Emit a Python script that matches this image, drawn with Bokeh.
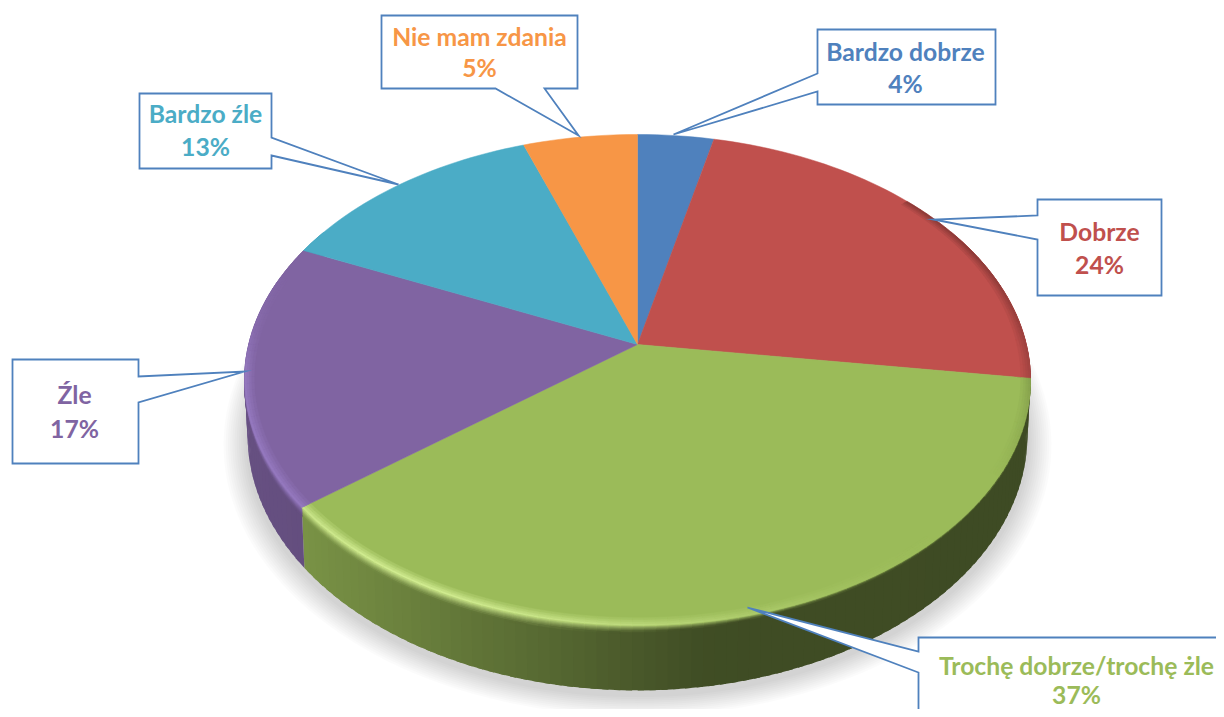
import numpy as np
from bokeh.plotting import figure
from bokeh.models import Range1d
from bokeh.core.properties import value
from bokeh.embed import file_html
from bokeh.resources import INLINE

# ---- data
categories = ["Bardzo dobrze", "Dobrze", "Trochę dobrze/trochę żle", "Źle", "Bardzo źle", "Nie mam zdania"]
shares = [3.6, 23.6, 37.2, 17.4, 12.8, 5.4]
pct_labels = ["4%", "24%", "37%", "17%", "13%", "5%"]
colors = ["#4f81bd", "#c0504d", "#9bbb59", "#8064a2", "#4bacc6", "#f79646"]

# ---- layout (pixels of the reference)
FIG_W, FIG_H = 1216, 709
CX = 637.0
K = 0.1446
TOP = dict(y0=344.0, w=388.8, h=240.4)
BOT = dict(y0=398.0, w=385.8, h=249.7)
boxes = [
    [(817, 29), (995, 29), (995, 104), (817, 104), (817, 91), (673, 134), (817, 73)],
    [(1037, 199), (1161, 199), (1161, 295), (1037, 295), (1037, 239), (933, 219), (1037, 215)],
    [(918, 637), (1240, 637), (1240, 740), (918, 740), (918, 672), (747, 607), (918, 651)],
    [(12, 359), (138, 359), (138, 376), (244, 371), (138, 402), (138, 463), (12, 463)],
    [(139, 93), (271, 93), (271, 137), (398, 184), (271, 155), (271, 168), (139, 168)],
    [(381, 15), (577, 15), (577, 88), (544, 88), (578, 135), (495, 88), (381, 88)],
]
name_pos = [(905, 51), (1099, 231), (1076, 665), (74, 394), (205, 113), (479, 36)]
pct_pos = [(905, 83), (1099, 264), (1076, 694), (74, 428), (205, 146), (479, 67)]


def proj(theta, r=1.0, plane=TOP):
    t = np.radians(theta)
    u, v = r * np.sin(t), r * np.cos(t)
    d = 1 + K * v
    return CX + plane["w"] * u / d, plane["y0"] - plane["h"] * v / d


def rgb(c):
    return np.array([int(c[i:i + 2], 16) for i in (1, 3, 5)], float)


def hexc(a):
    a = np.clip(a, 0, 255).round().astype(int)
    return "#%02x%02x%02x" % tuple(a)


def wall_factor(x):
    return np.interp(x, [245, 303, 540, 700, 1030], [.80, .78, .56, .41, .40])


def light(theta):
    """+ highlight on the front left, - dark edge on the right."""
    f = np.cos(np.radians(theta - 212))
    if f > 0:
        return float(f ** 3)
    if 50 < theta < 180:
        return -0.45 * float(min(1, -f * 1.2))
    return 0.0


def edge_colour(base, L):
    c = rgb(base)
    if L >= 0:
        if base == "#9bbb59":
            return c + (np.array([214, 240, 150]) - c) * L * 0.9
        if base == "#8064a2":
            return c + (np.array([148, 120, 190]) - c) * min(1.0, L * 4)
        return c + (255 - c) * L * 0.22
    return c * (1 + L * 0.6)


edges = np.cumsum([0] + shares) / sum(shares) * 360.0
STEP = 1.5

p = figure(width=FIG_W, height=FIG_H, x_range=Range1d(0, FIG_W), y_range=Range1d(FIG_H, 0),
           toolbar_location=None, output_backend="svg", min_border=0,
           outline_line_color=None, background_fill_color="white", border_fill_color="white")
p.axis.visible = False
p.grid.visible = False

# soft shadow under the pie
ang = np.linspace(0, 360, 181)
for i in range(11, 0, -1):
    sx, sy = proj(ang, 1 + i * 0.0055, BOT)
    p.patch(sx, sy + 5, fill_color="#000000", fill_alpha=0.014, line_color=None)

# side wall: flat columns first, overlapping each other
z_levels = np.array([0, .012, .024, .036, .05, .065, .08, .1, .125, .15])
cols = []
for k, base in enumerate(colors):
    a0, a1 = max(edges[k], 60), min(edges[k + 1], 300)
    if a1 <= a0:
        continue
    n = max(1, int((a1 - a0) / STEP))
    th = np.linspace(a0, a1, n + 1)
    for t0, t1 in zip(th[:-1], th[1:]):
        cols.append((t0, t1, base, a1))
cols.sort(key=lambda c: c[0])
xs, ys, cs = [], [], []
bx, by, bc = [], [], []
for t0, t1, base, a1 in cols:
    tm = (t0 + t1) / 2
    te = min(t1 + 0.8, a1)
    x0t, y0t = proj(t0)
    x1t, y1t = proj(te)
    x0b, y0b = proj(t0, plane=BOT)
    x1b, y1b = proj(te, plane=BOT)
    xm = (x0t + x1t) / 2
    wall = rgb(base) * wall_factor(xm)
    xs.append([x0t, x1t, x1b, x0b])
    ys.append([y0t, y1t, y1b, y0b])
    cs.append(hexc(wall))
    # bevel bands on the upper part of the wall, without overlap
    x1t, y1t = proj(t1)
    x1b, y1b = proj(t1, plane=BOT)
    L = light(tm)
    hi = edge_colour(base, max(L, 0))
    zw = np.interp(xm, [300, 520, 800, 1030], [.15, .14, .055, .04])
    for z0, z1 in zip(z_levels[:-1], z_levels[1:]):
        zm = (z0 + z1) / 2
        mix = max(0.0, 1 - zm / zw) ** 1.3
        if mix <= 0:
            continue
        bx.append([x0t + (x0b - x0t) * z0, x1t + (x1b - x1t) * z0, x1t + (x1b - x1t) * z1, x0t + (x0b - x0t) * z1])
        by.append([y0t + (y0b - y0t) * z0, y1t + (y1b - y1t) * z0, y1t + (y1b - y1t) * z1, y0t + (y0b - y0t) * z1])
        bc.append(hexc(wall + (hi - wall) * mix))
p.patches(xs, ys, fill_color=cs, line_color=None)
p.patches(bx, by, fill_color=bc, line_color=bc, line_width=0.5)

# top surface
for k, base in enumerate(colors):
    n = max(2, int((edges[k + 1] - edges[k]) / STEP))
    th = np.linspace(edges[k], edges[k + 1], n + 1)
    ex, ey = proj(th)
    p.patch(np.r_[CX, ex], np.r_[TOP["y0"], ey], fill_color=base, line_color=base, line_width=0.5)

# bevelled rim of the top surface
xs, ys, cs = [], [], []
r_levels = [.976, .983, .989, .995, 1.0]
for k, base in enumerate(colors):
    n = max(2, int((edges[k + 1] - edges[k]) / STEP))
    th = np.linspace(edges[k], edges[k + 1], n + 1)
    for t0, t1 in zip(th[:-1], th[1:]):
        L = light((t0 + t1) / 2)
        if abs(L) < 0.02:
            continue
        for j, (r0, r1) in enumerate(zip(r_levels[:-1], r_levels[1:])):
            mix = (j + 1) / len(r_levels[1:])
            x00, y00 = proj(t0, r0)
            x10, y10 = proj(t1, r0)
            x11, y11 = proj(t1, r1)
            x01, y01 = proj(t0, r1)
            xs.append([x00, x10, x11, x01])
            ys.append([y00, y10, y11, y01])
            c = rgb(base)
            cs.append(hexc(c + (edge_colour(base, L) - c) * mix))
p.patches(xs, ys, fill_color=cs, line_color=cs, line_width=0.5)

# callouts
for pts in boxes:
    p.patch([q[0] for q in pts], [q[1] for q in pts], fill_color="white",
            line_color="#4f81bd", line_width=1.8, line_join="miter")

# labels
FONT = value("Lato")
for i, col in enumerate(colors):
    p.text([name_pos[i][0]], [name_pos[i][1]], text=[categories[i]], text_color=col,
           text_font=FONT, text_font_style="bold", text_font_size="24.7px",
           text_align="center", text_baseline="middle")
    p.text([pct_pos[i][0]], [pct_pos[i][1]], text=[pct_labels[i]], text_color=col,
           text_font=FONT, text_font_style="bold", text_font_size="24.7px",
           text_align="center", text_baseline="middle")

open("out.html", "w").write(file_html(p, INLINE))
